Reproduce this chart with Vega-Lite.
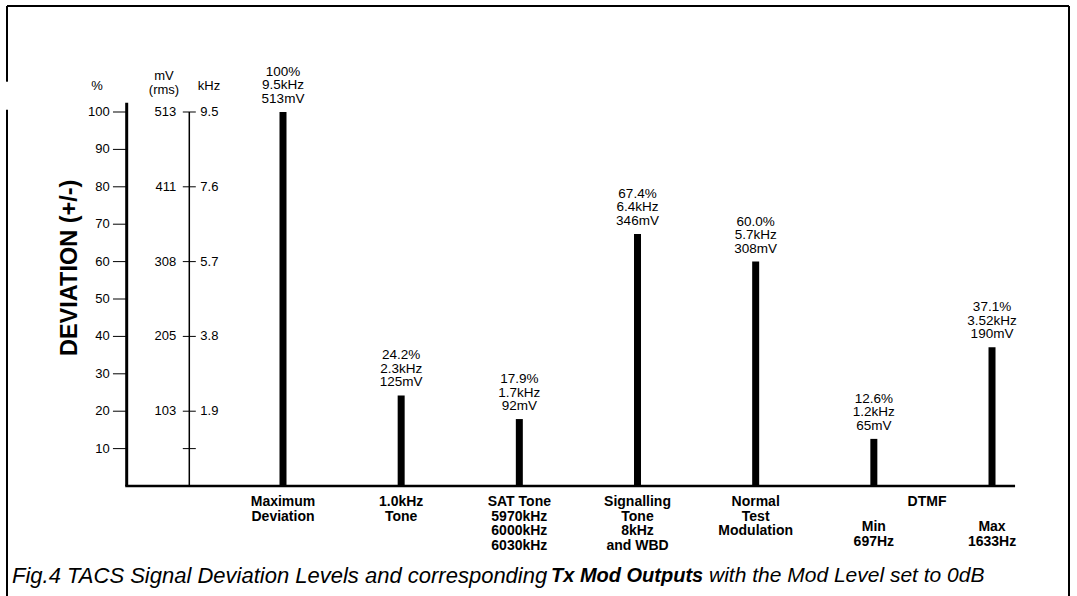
{
  "$schema": "https://vega.github.io/schema/vega-lite/v6.json",
  "width": 1062,
  "height": 590,
  "autosize": "none",
  "padding": {"left": 7, "top": 6, "right": 8, "bottom": 0},
  "background": "white",
  "config": {
    "view": {"stroke": null},
    "font": "Liberation Sans",
    "text": {"font": "Liberation Sans", "color": "black"}
  },
  "datasets": {
    "bars": [
      {"slot": 1, "item": "Maximum Deviation", "pct": 100, "label": "100%\n9.5kHz\n513mV"},
      {"slot": 2, "item": "1.0kHz Tone", "pct": 24.2, "label": "24.2%\n2.3kHz\n125mV"},
      {"slot": 3, "item": "SAT Tone", "pct": 17.9, "label": "17.9%\n1.7kHz\n92mV"},
      {"slot": 4, "item": "Signalling Tone", "pct": 67.4, "label": "67.4%\n6.4kHz\n346mV"},
      {"slot": 5, "item": "Normal Test Modulation", "pct": 60.0, "label": "60.0%\n5.7kHz\n308mV"},
      {"slot": 6, "item": "DTMF Min", "pct": 12.6, "label": "12.6%\n1.2kHz\n65mV"},
      {"slot": 7, "item": "DTMF Max", "pct": 37.1, "label": "37.1%\n3.52kHz\n190mV"}
    ],
    "pctaxis": [
      {"pct": 10, "lab": "10"}, {"pct": 20, "lab": "20"}, {"pct": 30, "lab": "30"},
      {"pct": 40, "lab": "40"}, {"pct": 50, "lab": "50"}, {"pct": 60, "lab": "60"},
      {"pct": 70, "lab": "70"}, {"pct": 80, "lab": "80"}, {"pct": 90, "lab": "90"},
      {"pct": 100, "lab": "100"}
    ],
    "mvaxis": [
      {"pct": 10, "mv": "", "khz": ""},
      {"pct": 20, "mv": "103", "khz": "1.9"},
      {"pct": 40, "mv": "205", "khz": "3.8"},
      {"pct": 60, "mv": "308", "khz": "5.7"},
      {"pct": 80, "mv": "411", "khz": "7.6"},
      {"pct": 100, "mv": "513", "khz": "9.5"}
    ],
    "cats": [
      {"slot": 1, "tier": "top", "label": "Maximum\nDeviation"},
      {"slot": 2, "tier": "top", "label": "1.0kHz\nTone"},
      {"slot": 3, "tier": "top", "label": "SAT Tone\n5970kHz\n6000kHz\n6030kHz"},
      {"slot": 4, "tier": "top", "label": "Signalling\nTone\n8kHz\nand WBD"},
      {"slot": 5, "tier": "top", "label": "Normal\nTest\nModulation"},
      {"slot": 6.45, "tier": "top", "label": "DTMF"},
      {"slot": 6, "tier": "sub", "label": "Min\n697Hz"},
      {"slot": 7, "tier": "sub", "label": "Max\n1633Hz"}
    ],
    "one": [{}]
  },
  "layer": [
    {
      "data": {"name": "one"},
      "mark": {"type": "rule", "color": "black", "strokeWidth": 2},
      "encoding": {
        "x": {"datum": -1.3356, "type": "quantitative", "scale": {"domain": [-1.3356, 7.6515], "nice": false, "zero": false}, "axis": null},
        "x2": {"datum": 7.6515},
        "y": {"datum": 128.34, "type": "quantitative", "scale": {"domain": [-29.41, 128.34], "nice": false, "zero": false}, "axis": null}
      }
    },
    {
      "data": {"name": "one"},
      "mark": {"type": "rule", "color": "black", "strokeWidth": 2},
      "encoding": {
        "x": {"datum": -1.3356, "type": "quantitative", "scale": {"domain": [-1.3356, 7.6515], "nice": false, "zero": false}, "axis": null},
        "y": {"datum": -29.41, "type": "quantitative", "scale": {"domain": [-29.41, 128.34], "nice": false, "zero": false}, "axis": null},
        "y2": {"datum": 128.34}
      }
    },
    {
      "data": {"name": "one"},
      "mark": {"type": "rule", "color": "white", "strokeWidth": 5},
      "encoding": {
        "x": {"datum": -1.3356, "type": "quantitative", "scale": {"domain": [-1.3356, 7.6515], "nice": false, "zero": false}, "axis": null},
        "y": {"datum": 100.6, "type": "quantitative", "scale": {"domain": [-29.41, 128.34], "nice": false, "zero": false}, "axis": null},
        "y2": {"datum": 108.1}
      }
    },
    {
      "data": {"name": "one"},
      "mark": {"type": "rule", "color": "black", "strokeWidth": 2},
      "encoding": {
        "x": {"datum": 7.6515, "type": "quantitative", "scale": {"domain": [-1.3356, 7.6515], "nice": false, "zero": false}, "axis": null},
        "y": {"datum": -29.41, "type": "quantitative", "scale": {"domain": [-29.41, 128.34], "nice": false, "zero": false}, "axis": null},
        "y2": {"datum": 128.34}
      }
    },
    {
      "data": {"name": "one"},
      "mark": {"type": "rule", "color": "black", "strokeWidth": 3},
      "encoding": {
        "x": {"datum": -0.3227, "type": "quantitative", "scale": {"domain": [-1.3356, 7.6515], "nice": false, "zero": false}, "axis": null},
        "y": {"datum": 0, "type": "quantitative", "scale": {"domain": [-29.41, 128.34], "nice": false, "zero": false}, "axis": null},
        "y2": {"datum": 102.5}
      }
    },
    {
      "data": {"name": "one"},
      "mark": {"type": "rule", "color": "black", "strokeWidth": 1.5},
      "encoding": {
        "x": {"datum": 0.2071, "type": "quantitative", "scale": {"domain": [-1.3356, 7.6515], "nice": false, "zero": false}, "axis": null},
        "y": {"datum": 0, "type": "quantitative", "scale": {"domain": [-29.41, 128.34], "nice": false, "zero": false}, "axis": null},
        "y2": {"datum": 100}
      }
    },
    {
      "data": {"name": "one"},
      "mark": {"type": "rule", "color": "black", "strokeWidth": 2.5},
      "encoding": {
        "x": {"datum": -0.335, "type": "quantitative", "scale": {"domain": [-1.3356, 7.6515], "nice": false, "zero": false}, "axis": null},
        "x2": {"datum": 7.195},
        "y": {"datum": 0, "type": "quantitative", "scale": {"domain": [-29.41, 128.34], "nice": false, "zero": false}, "axis": null}
      }
    },
    {
      "data": {"name": "pctaxis"},
      "mark": {"type": "tick", "orient": "horizontal", "color": "black", "size": 13.5, "thickness": 1, "opacity": 1, "xOffset": -7},
      "encoding": {
        "x": {"datum": -0.3227, "type": "quantitative", "scale": {"domain": [-1.3356, 7.6515], "nice": false, "zero": false}, "axis": null},
        "y": {"field": "pct", "type": "quantitative", "scale": {"domain": [-29.41, 128.34], "nice": false, "zero": false}, "axis": null}
      }
    },
    {
      "data": {"name": "pctaxis"},
      "mark": {"type": "text", "align": "right", "baseline": "middle", "dx": -17, "fontSize": 13},
      "encoding": {
        "x": {"datum": -0.3227, "type": "quantitative", "scale": {"domain": [-1.3356, 7.6515], "nice": false, "zero": false}, "axis": null},
        "y": {"field": "pct", "type": "quantitative", "scale": {"domain": [-29.41, 128.34], "nice": false, "zero": false}, "axis": null},
        "text": {"field": "lab"}
      }
    },
    {
      "data": {"name": "bars"},
      "mark": {"type": "rule", "color": "black", "strokeWidth": 7, "strokeCap": "butt"},
      "encoding": {
        "x": {"field": "slot", "type": "quantitative", "scale": {"domain": [-1.3356, 7.6515], "nice": false, "zero": false}, "axis": null},
        "y": {"field": "pct", "type": "quantitative", "scale": {"domain": [-29.41, 128.34], "nice": false, "zero": false}, "axis": null},
        "y2": {"datum": 0}
      }
    },
    {
      "data": {"name": "bars"},
      "mark": {"type": "text", "baseline": "bottom", "align": "center", "dy": -33, "fontSize": 13.5, "lineHeight": 13.5, "lineBreak": "\n"},
      "encoding": {
        "x": {"field": "slot", "type": "quantitative", "scale": {"domain": [-1.3356, 7.6515], "nice": false, "zero": false}, "axis": null},
        "y": {"field": "pct", "type": "quantitative", "scale": {"domain": [-29.41, 128.34], "nice": false, "zero": false}, "axis": null},
        "text": {"field": "label"}
      }
    },
    {
      "data": {"name": "mvaxis"},
      "mark": {"type": "tick", "orient": "horizontal", "color": "black", "size": 13, "thickness": 1, "opacity": 1},
      "encoding": {
        "x": {"datum": 0.2071, "type": "quantitative", "scale": {"domain": [-1.3356, 7.6515], "nice": false, "zero": false}, "axis": null},
        "y": {"field": "pct", "type": "quantitative", "scale": {"domain": [-29.41, 128.34], "nice": false, "zero": false}, "axis": null}
      }
    },
    {
      "data": {"name": "mvaxis"},
      "mark": {"type": "text", "align": "right", "baseline": "middle", "dx": -13, "fontSize": 13},
      "encoding": {
        "x": {"datum": 0.2071, "type": "quantitative", "scale": {"domain": [-1.3356, 7.6515], "nice": false, "zero": false}, "axis": null},
        "y": {"field": "pct", "type": "quantitative", "scale": {"domain": [-29.41, 128.34], "nice": false, "zero": false}, "axis": null},
        "text": {"field": "mv"}
      }
    },
    {
      "data": {"name": "mvaxis"},
      "mark": {"type": "text", "align": "left", "baseline": "middle", "dx": 11, "fontSize": 13},
      "encoding": {
        "x": {"datum": 0.2071, "type": "quantitative", "scale": {"domain": [-1.3356, 7.6515], "nice": false, "zero": false}, "axis": null},
        "y": {"field": "pct", "type": "quantitative", "scale": {"domain": [-29.41, 128.34], "nice": false, "zero": false}, "axis": null},
        "text": {"field": "khz"}
      }
    },
    {
      "data": {"name": "one"},
      "mark": {"type": "text", "align": "center", "baseline": "middle", "fontSize": 13, "text": "%"},
      "encoding": {
        "x": {"datum": -0.574, "type": "quantitative", "scale": {"domain": [-1.3356, 7.6515], "nice": false, "zero": false}, "axis": null},
        "y": {"datum": 107.04, "type": "quantitative", "scale": {"domain": [-29.41, 128.34], "nice": false, "zero": false}, "axis": null}
      }
    },
    {
      "data": {"name": "one"},
      "mark": {"type": "text", "align": "center", "baseline": "middle", "fontSize": 13, "text": "mV"},
      "encoding": {
        "x": {"datum": -0.007, "type": "quantitative", "scale": {"domain": [-1.3356, 7.6515], "nice": false, "zero": false}, "axis": null},
        "y": {"datum": 109.71, "type": "quantitative", "scale": {"domain": [-29.41, 128.34], "nice": false, "zero": false}, "axis": null}
      }
    },
    {
      "data": {"name": "one"},
      "mark": {"type": "text", "align": "center", "baseline": "middle", "fontSize": 13, "text": "(rms)"},
      "encoding": {
        "x": {"datum": -0.007, "type": "quantitative", "scale": {"domain": [-1.3356, 7.6515], "nice": false, "zero": false}, "axis": null},
        "y": {"datum": 105.78, "type": "quantitative", "scale": {"domain": [-29.41, 128.34], "nice": false, "zero": false}, "axis": null}
      }
    },
    {
      "data": {"name": "one"},
      "mark": {"type": "text", "align": "center", "baseline": "middle", "fontSize": 13, "text": "kHz"},
      "encoding": {
        "x": {"datum": 0.374, "type": "quantitative", "scale": {"domain": [-1.3356, 7.6515], "nice": false, "zero": false}, "axis": null},
        "y": {"datum": 107.04, "type": "quantitative", "scale": {"domain": [-29.41, 128.34], "nice": false, "zero": false}, "axis": null}
      }
    },
    {
      "data": {"name": "one"},
      "mark": {"type": "text", "align": "center", "baseline": "middle", "angle": 270, "fontSize": 23.5, "fontWeight": "bold", "text": "DEVIATION (+/-)"},
      "encoding": {
        "x": {"datum": -0.8025, "type": "quantitative", "scale": {"domain": [-1.3356, 7.6515], "nice": false, "zero": false}, "axis": null},
        "y": {"datum": 58.34, "type": "quantitative", "scale": {"domain": [-29.41, 128.34], "nice": false, "zero": false}, "axis": null}
      }
    },
    {
      "data": {"name": "cats"},
      "transform": [{"filter": "datum.tier === 'top'"}],
      "mark": {"type": "text", "align": "center", "baseline": "top", "dy": 9, "fontSize": 14, "fontWeight": "bold", "lineHeight": 14.5, "lineBreak": "\n"},
      "encoding": {
        "x": {"field": "slot", "type": "quantitative", "scale": {"domain": [-1.3356, 7.6515], "nice": false, "zero": false}, "axis": null},
        "y": {"datum": 0, "type": "quantitative", "scale": {"domain": [-29.41, 128.34], "nice": false, "zero": false}, "axis": null},
        "text": {"field": "label"}
      }
    },
    {
      "data": {"name": "cats"},
      "transform": [{"filter": "datum.tier === 'sub'"}],
      "mark": {"type": "text", "align": "center", "baseline": "top", "dy": 34, "fontSize": 14, "fontWeight": "bold", "lineHeight": 14.5, "lineBreak": "\n"},
      "encoding": {
        "x": {"field": "slot", "type": "quantitative", "scale": {"domain": [-1.3356, 7.6515], "nice": false, "zero": false}, "axis": null},
        "y": {"datum": 0, "type": "quantitative", "scale": {"domain": [-29.41, 128.34], "nice": false, "zero": false}, "axis": null},
        "text": {"field": "label"}
      }
    },
    {
      "data": {"name": "one"},
      "mark": {"type": "text", "align": "left", "baseline": "middle", "fontSize": 22, "fontStyle": "italic", "text": "Fig.4 TACS Signal Deviation Levels and corresponding"},
      "encoding": {
        "x": {"datum": -1.2933, "type": "quantitative", "scale": {"domain": [-1.3356, 7.6515], "nice": false, "zero": false}, "axis": null},
        "y": {"datum": -24.08, "type": "quantitative", "scale": {"domain": [-29.41, 128.34], "nice": false, "zero": false}, "axis": null}
      }
    },
    {
      "data": {"name": "one"},
      "mark": {"type": "text", "align": "left", "baseline": "middle", "fontSize": 20, "fontStyle": "italic", "fontWeight": "bold", "text": "Tx Mod Outputs"},
      "encoding": {
        "x": {"datum": 3.2679, "type": "quantitative", "scale": {"domain": [-1.3356, 7.6515], "nice": false, "zero": false}, "axis": null},
        "y": {"datum": -24.08, "type": "quantitative", "scale": {"domain": [-29.41, 128.34], "nice": false, "zero": false}, "axis": null}
      }
    },
    {
      "data": {"name": "one"},
      "mark": {"type": "text", "align": "left", "baseline": "middle", "fontSize": 21, "fontStyle": "italic", "text": "with the Mod Level set to 0dB"},
      "encoding": {
        "x": {"datum": 4.605, "type": "quantitative", "scale": {"domain": [-1.3356, 7.6515], "nice": false, "zero": false}, "axis": null},
        "y": {"datum": -24.08, "type": "quantitative", "scale": {"domain": [-29.41, 128.34], "nice": false, "zero": false}, "axis": null}
      }
    }
  ]
}
